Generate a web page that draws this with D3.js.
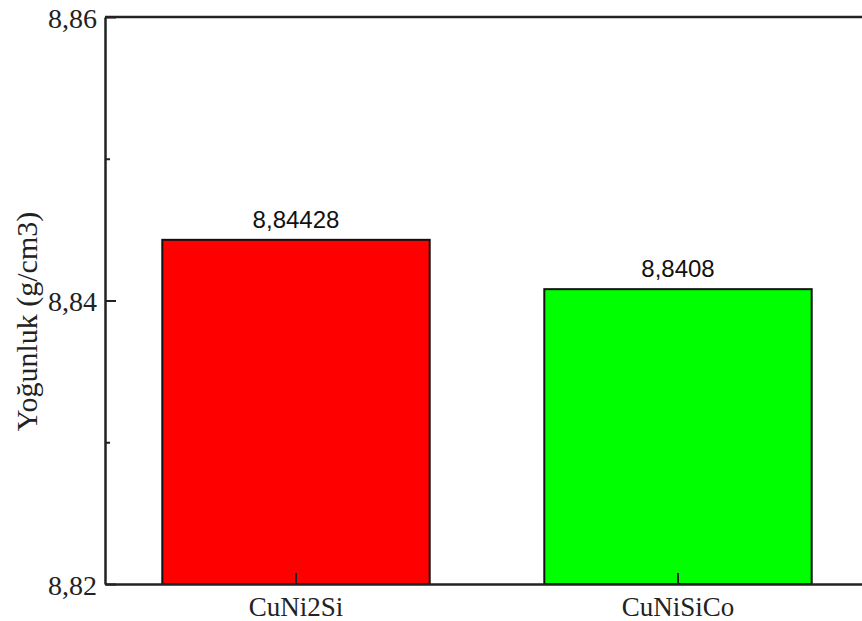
<!DOCTYPE html>
<html>
<head>
<meta charset="utf-8">
<script src="https://cdn.jsdelivr.net/npm/d3@7/dist/d3.min.js"></script>
<style>
  html, body { margin: 0; padding: 0; background: #fff; }
  svg { display: block; }
  .serif { font-family: "Liberation Serif", "Times New Roman", Times, serif; }
  .sans { font-family: "Liberation Sans", Arial, Helvetica, sans-serif; }
</style>
</head>
<body>
<svg id="chart" width="862" height="621"></svg>
<script>
// Density of the two alloys
const categories = ["CuNi2Si", "CuNiSiCo"];
const densities = [8.84428, 8.8408];
const valueLabels = ["8,84428", "8,8408"];
const barColors = ["#ff0000", "#00ff00"];
const majorTicks = [8.82, 8.84, 8.86];
const minorTicks = [8.83, 8.85];
const yTitle = "Yoğunluk (g/cm3)";

const svg = d3.select("#chart");
const plotLeft = 105, plotRight = 869, plotTop = 17, plotBottom = 584;

const x = d3.scaleBand().domain(categories).range([plotLeft, plotRight]).paddingInner(0.3).paddingOuter(0.15);
const y = d3.scaleLinear().domain([8.82, 8.86]).range([plotBottom, plotTop]);

const comma = v => d3.format(".2f")(v).replace(".", ",");

// bars
svg.append("g").selectAll("rect").data(categories).join("rect")
  .attr("x", d => x(d))
  .attr("y", (d, i) => y(densities[i]))
  .attr("width", x.bandwidth())
  .attr("height", (d, i) => y(8.82) - y(densities[i]))
  .attr("fill", (d, i) => barColors[i])
  .attr("stroke", "#111")
  .attr("stroke-width", 2);

// value labels
svg.append("g").selectAll("text").data(categories).join("text")
  .attr("class", "sans")
  .attr("x", d => x(d) + x.bandwidth() / 2)
  .attr("y", (d, i) => y(densities[i]) - 12)
  .attr("text-anchor", "middle")
  .attr("font-size", 24)
  .attr("fill", "#111")
  .text((d, i) => valueLabels[i]);

// y axis (left)
const yAxis = svg.append("g").attr("transform", `translate(${plotLeft},0)`)
  .call(d3.axisLeft(y).tickValues(majorTicks).tickFormat(comma).tickSizeInner(-11).tickSizeOuter(0).tickPadding(8));
yAxis.attr("font-family", null);
yAxis.select(".domain").attr("stroke", "#222").attr("stroke-width", 2.5);
yAxis.selectAll(".tick line").attr("stroke", "#222").attr("stroke-width", 2);
yAxis.selectAll(".tick text")
  .attr("class", "serif")
  .attr("font-size", 28).attr("fill", "#222").attr("dy", "0.36em");

const yMinor = svg.append("g").attr("transform", `translate(${plotLeft},0)`)
  .call(d3.axisLeft(y).tickValues(minorTicks).tickFormat("").tickSizeInner(-5).tickSizeOuter(0));
yMinor.select(".domain").remove();
yMinor.selectAll(".tick line").attr("stroke", "#222").attr("stroke-width", 2);

// x axis (bottom)
const xAxis = svg.append("g").attr("transform", `translate(0,${plotBottom})`)
  .call(d3.axisBottom(x).tickSizeInner(-11).tickSizeOuter(0).tickPadding(10));
xAxis.attr("font-family", null);
xAxis.select(".domain").attr("stroke", "#222").attr("stroke-width", 2.5);
xAxis.selectAll(".tick line").attr("stroke", "#222").attr("stroke-width", 2);
xAxis.selectAll(".tick text")
  .attr("class", "serif")
  .attr("font-size", 27).attr("fill", "#222").attr("y", 6).attr("dy", "0.95em");

// top frame line
svg.append("line")
  .attr("x1", plotLeft).attr("x2", plotRight).attr("y1", plotTop).attr("y2", plotTop)
  .attr("stroke", "#222").attr("stroke-width", 2.5);

// y title
svg.append("text")
  .attr("class", "serif")
  .attr("transform", `translate(37,${(208 + 435) / 2}) rotate(-90)`)
  .attr("text-anchor", "middle")
  .attr("font-size", 30).attr("fill", "#222")
  .text(yTitle);
</script>
</body>
</html>
